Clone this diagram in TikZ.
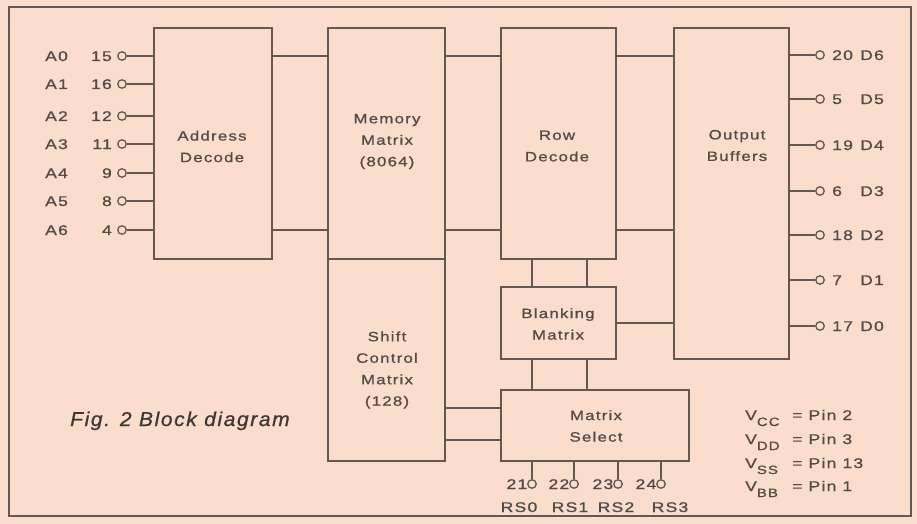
\documentclass[tikz,border=0pt]{standalone}
\usepackage{fontspec}
\setmainfont{Liberation Sans}
\newfontfamily\labfont[FakeStretch=1.25,LetterSpace=9,FakeBold=1.0]{Liberation Sans}
\newfontfamily\capfont[FakeStretch=1.05,LetterSpace=8,FakeBold=0.8]{Liberation Sans}
\definecolor{bg}{RGB}{250,221,204}
\definecolor{ink}{RGB}{100,88,82}
\definecolor{txt}{RGB}{85,75,70}
\definecolor{captxt}{RGB}{62,55,50}
\begin{document}
\begin{tikzpicture}[x=1pt,y=-1pt,
  blk/.style={draw=ink, line width=1.6pt, rectangle, inner sep=0pt},
  wire/.style={draw=ink, line width=1.5pt},
  pinc/.style={circle, draw=ink, line width=1.3pt, minimum size=8.5pt, inner sep=0pt, fill=bg},
  lab/.style={text=txt, font=\labfont\fontsize{13.5}{21.5}\selectfont, align=center, inner sep=0pt},
  pinlab/.style={text=txt, font=\labfont\fontsize{14}{16}\selectfont, inner sep=0pt},
]
\fill[bg] (0,0) rectangle (917,524);
\useasboundingbox (0,0) rectangle (917,524);
\draw[ink, line width=1.6pt] (9,7) rectangle (911,516);

% blocks
\node[blk, minimum width=118pt, minimum height=231pt] (addr) at (213,143.5) {};
\node[blk, minimum width=117pt, minimum height=231pt] (mem) at (386.5,143.5) {};
\node[blk, minimum width=117pt, minimum height=202pt] (shift) at (386.5,360) {};
\node[blk, minimum width=115pt, minimum height=231pt] (row) at (558.5,143.5) {};
\node[blk, minimum width=115pt, minimum height=72pt] (blank) at (558.5,323) {};
\node[blk, minimum width=188pt, minimum height=71pt] (msel) at (595,425.5) {};
\node[blk, minimum width=115pt, minimum height=331pt] (outb) at (731.5,193.5) {};

% block texts
\node[lab] (addrT) at (212,146.5) {Address\\Decode};
\node[lab] (memT) at (387,141.5) {Memory\\Matrix\\(8064)};
\node[lab] (rowT) at (557,146) {Row\\Decode};
\node[lab] (outT) at (737,145.5) {Output\\Buffers};
\node[lab] (shiftT) at (387,370) {Shift\\Control\\Matrix\\(128)};
\node[lab] (blankT) at (558,324) {Blanking\\Matrix};
\node[lab] (mselT) at (596,426) {Matrix\\Select};

% connections between blocks
\coordinate (yA) at (0,56);
\coordinate (yB) at (0,230);
\draw[wire] (addr.east |- yA) -- (mem.west |- yA);
\draw[wire] (addr.east |- yB) -- (mem.west |- yB);
\draw[wire] (mem.east |- yA) -- (row.west |- yA);
\draw[wire] (mem.east |- yB) -- (row.west |- yB);
\draw[wire] (row.east |- yA) -- (outb.west |- yA);
\draw[wire] (row.east |- yB) -- (outb.west |- yB);
\coordinate (xL) at (532,0);
\coordinate (xR) at (587,0);
\draw[wire] (row.south -| xL) -- (blank.north -| xL);
\draw[wire] (row.south -| xR) -- (blank.north -| xR);
\draw[wire] (blank.south -| xL) -- (msel.north -| xL);
\draw[wire] (blank.south -| xR) -- (msel.north -| xR);
\draw[wire] (blank.east) -- (blank.east -| outb.west);
\coordinate (yS1) at (0,408);
\coordinate (yS2) at (0,440);
\draw[wire] (shift.east |- yS1) -- (msel.west |- yS1);
\draw[wire] (shift.east |- yS2) -- (msel.west |- yS2);

% address pins
\foreach \y/\a/\n [count=\i] in {56/A0/15, 84/A1/16, 116/A2/12, 144/A3/11, 173/A4/9, 201/A5/8, 230/A6/4} {
  \node[pinc] (ip\i) at (122,\y) {};
  \draw[wire] (ip\i) -- (ip\i -| addr.west);
  \node[pinlab, anchor=base west] (ia\i) at (45,\y+5) {\a};
  \node[pinlab, anchor=base east] (in\i) at (112,\y+5) {\n};
}

% output pins
\foreach \y/\n/\d [count=\i] in {55/20/D6, 99/5/D5, 145/19/D4, 191/6/D3, 235/18/D2, 280/7/D1, 326/17/D0} {
  \node[pinc] (op\i) at (820,\y) {};
  \draw[wire] (op\i -| outb.east) -- (op\i);
  \node[pinlab, anchor=base west] (on\i) at (832,\y+5) {\n};
  \node[pinlab, anchor=base west] (od\i) at (860,\y+5) {\d};
}

% matrix select pins
\foreach \x/\n/\r/\c [count=\i] in {532/21/RS0/519, 574/22/RS1/570, 618/23/RS2/616, 661/24/RS3/670} {
  \node[pinc] (sp\i) at (\x,484) {};
  \draw[wire] (sp\i |- msel.south) -- (sp\i);
  \node[pinlab, anchor=base east] (sn\i) at (\x-4.5,489) {\n};
  \node[pinlab, anchor=base] (sr\i) at (\c,512) {\r};
}

% supply pins
\foreach \y/\s/\p [count=\i] in {420/CC/2, 444/DD/3, 468/SS/13, 491/BB/1} {
  \node[pinlab, anchor=base west] (v\i) at (745,\y) {V\raisebox{-6pt}{\fontsize{12}{12}\selectfont \s}};
  \node[pinlab, anchor=base west] (vp\i) at (792,\y) {= Pin \p};
}

% caption
\node[anchor=base west, inner sep=0pt, text=captxt, font=\capfont\itshape\fontsize{20}{20}\selectfont] (cap) at (70,426) {Fig. 2\ Block diagram};
\end{tikzpicture}
\end{document}
